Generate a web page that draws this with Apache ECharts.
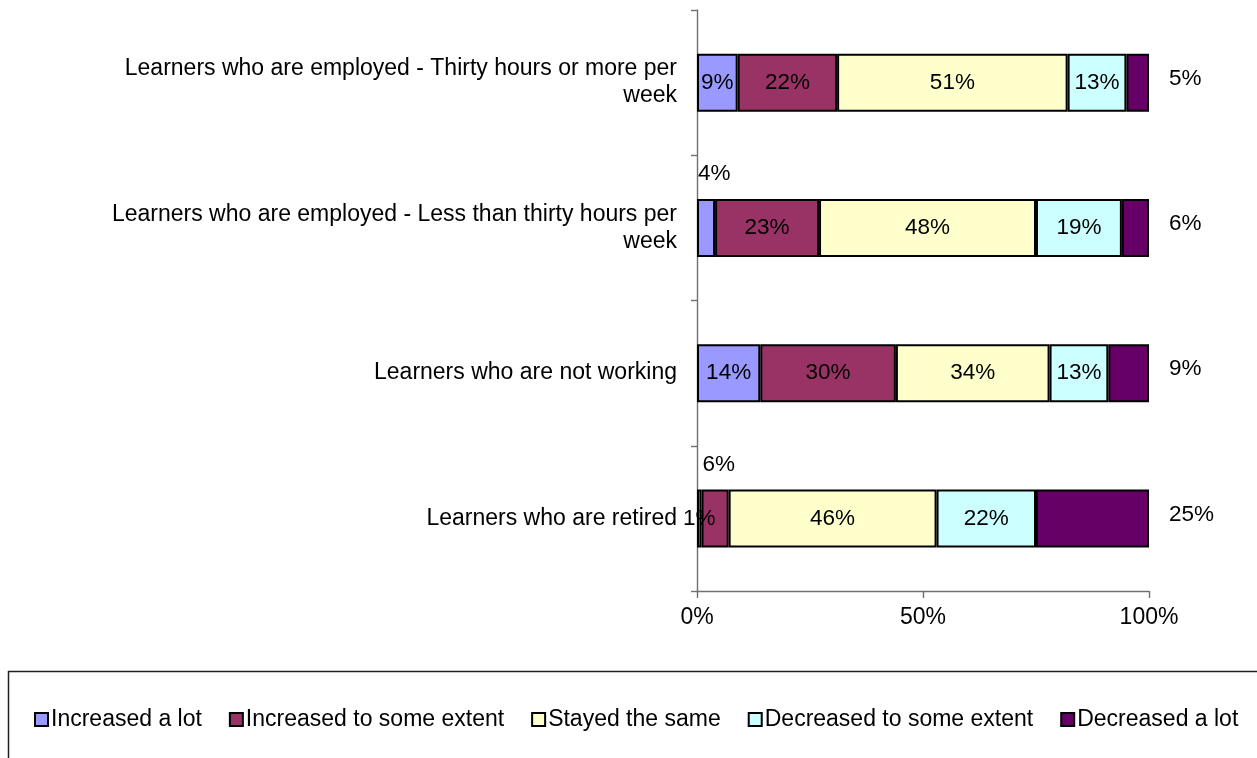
<!DOCTYPE html>
<html>
<head>
<meta charset="utf-8">
<script src="https://cdn.jsdelivr.net/npm/echarts@6/dist/echarts.min.js"></script>
<style>
  html, body { margin: 0; padding: 0; background: #ffffff; }
  #chart { width: 1257px; height: 758px; }
</style>
</head>
<body>
<div id="chart"></div>
<script>
// Learner groups (top to bottom)
const categories = [
  'Learners who are employed - Thirty hours or more per\nweek',
  'Learners who are employed - Less than thirty hours per\nweek',
  'Learners who are not working',
  'Learners who are retired'
];

// Response shares (%) per group
const seriesNames = [
  'Increased a lot',
  'Increased to some extent',
  'Stayed the same',
  'Decreased to some extent',
  'Decreased a lot'
];
const increasedALot       = [9, 4, 14, 1];
const increasedSomeExtent = [22, 23, 30, 6];
const stayedSame          = [51, 48, 34, 46];
const decreasedSomeExtent = [13, 19, 13, 22];
const decreasedALot       = [5, 6, 9, 25];

const xTicks = [0, 50, 100];

const seriesValues = [increasedALot, increasedSomeExtent, stayedSame, decreasedSomeExtent, decreasedALot];
const colors = ['#9999FF', '#993366', '#FFFFCC', '#CCFFFF', '#660066'];

// Narrow segments whose label sits above the bar: [series index, category index]
const raisedLabels = [[0, 1], [1, 3]];

const FONT = '"Liberation Sans", Arial, sans-serif';

const series = seriesValues.map(function (vals, si) {
  const isLast = si === seriesValues.length - 1;
  return {
    name: seriesNames[si],
    type: 'bar',
    stack: 'total',
    barWidth: 58,
    itemStyle: { color: colors[si], borderColor: '#000000', borderWidth: 2 },
    label: isLast ? {
      show: true,
      position: 'right',
      distance: 20,
      offset: [0, -4],
      color: '#000',
      fontFamily: FONT,
      fontSize: 22.5,
      formatter: function (p) { return p.value + '%'; }
    } : {
      show: true,
      position: 'inside',
      color: '#000',
      fontFamily: FONT,
      fontSize: 22.5,
      formatter: function (p) { return p.value + '%'; }
    },
    data: vals.map(function (v, ci) {
      const raised = raisedLabels.some(function (r) { return r[0] === si && r[1] === ci; });
      if (!raised) return v;
      return {
        value: v,
        label: { position: [1, -25], align: 'left', verticalAlign: 'middle' }
      };
    })
  };
});

const chart = echarts.init(document.getElementById('chart'), null, { renderer: 'canvas' });
chart.setOption({
  animation: false,
  backgroundColor: '#ffffff',
  grid: { left: 697, right: 108, top: 10, bottom: 167, containLabel: false },
  xAxis: {
    type: 'value',
    min: 0,
    max: 100,
    interval: 50,
    axisLine: { show: true, lineStyle: { color: '#707070', width: 1.4 } },
    axisTick: { show: true, length: 7, lineStyle: { color: '#707070', width: 1.4 } },
    splitLine: { show: false },
    axisLabel: {
      color: '#000',
      fontFamily: FONT,
      fontSize: 23,
      margin: 15,
      customValues: xTicks,
      formatter: function (v) { return v + '%'; }
    }
  },
  yAxis: {
    type: 'category',
    inverse: true,
    data: categories,
    axisLine: { show: true, lineStyle: { color: '#707070', width: 1.4 } },
    axisTick: { show: true, length: 6, alignWithLabel: false, lineStyle: { color: '#707070', width: 1.4 } },
    axisLabel: {
      color: '#000',
      fontFamily: FONT,
      fontSize: 23,
      margin: 20,
      align: 'right',
      lineHeight: 27
    }
  },
  legend: {
    left: 34,
    top: 708,
    padding: 0,
    itemWidth: 13,
    itemHeight: 13,
    itemGap: 27,
    icon: 'rect',
    textStyle: { color: '#000', fontFamily: FONT, fontSize: 23, padding: [0, 0, 0, -2] },
    data: seriesNames
  },
  graphic: [{
    type: 'rect',
    shape: { x: 8.5, y: 671.5, width: 1400, height: 200 },
    style: { fill: 'none', stroke: '#202020', lineWidth: 1.5 },
    silent: true
  }],
  series: series
});
</script>
</body>
</html>
